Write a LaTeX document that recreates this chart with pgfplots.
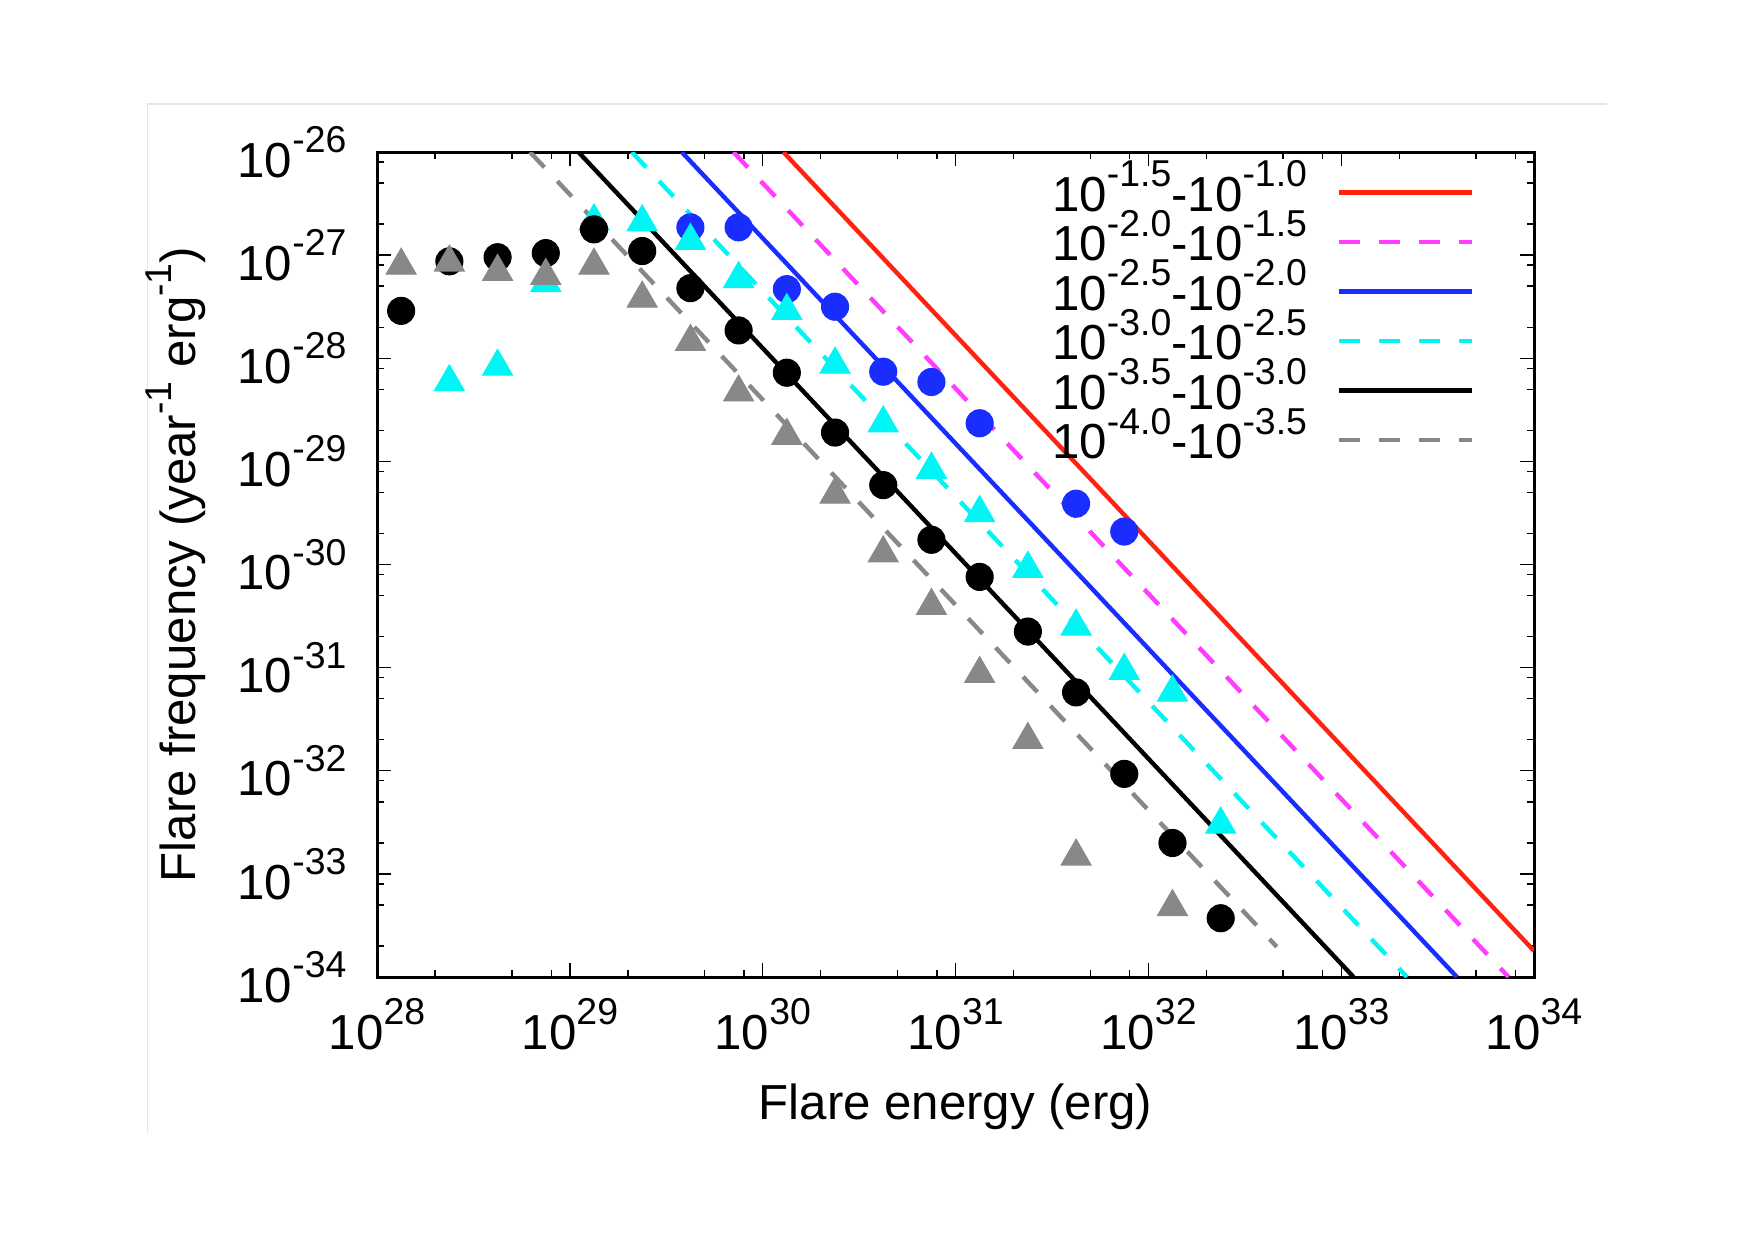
\documentclass[border=0pt]{standalone}
\usepackage{fontspec}
\setmainfont{Liberation Sans}
\usepackage{graphicx}
\usepackage{pgfplots}
\pgfplotsset{compat=1.18}
\definecolor{cred}{RGB}{255,35,15}
\definecolor{cmag}{RGB}{255,60,255}
\definecolor{cblue}{RGB}{25,45,255}
\definecolor{ccyan}{RGB}{0,245,245}
\definecolor{cgray}{RGB}{136,136,136}
\newcommand{\tp}[1]{10\raisebox{0.5em}{\scalebox{0.76}{#1}}}
\newcommand{\fs}{\fontsize{14}{16}\selectfont}
\begin{document}
\begin{tikzpicture}[x=1cm,y=1cm]
\path[use as bounding box] (0,0) rectangle (17.54,12.39);
\draw[line width=0.4pt, color=black!10] (1.475,1.06) -- (1.475,11.35) -- (16.07,11.35);
\begin{axis}[
  at={(3.77cm,2.62cm)}, anchor=south west,
  scale only axis, width=11.57cm, height=8.25cm,
  xmode=log, ymode=log,
  xmin=1e28, xmax=1e34, ymin=1e-34, ymax=1e-26,
  axis line style={line width=0.85pt},
  every tick/.style={black, line width=0.4pt},
  major tick length=0.14cm, minor tick length=0.07cm,
  tick align=inside,
  xtick={1e28,1e29,1e30,1e31,1e32,1e33,1e34},
  xticklabels={\tp{28},\tp{29},\tp{30},\tp{31},\tp{32},\tp{33},\tp{34}},
  ytick={1e-34,1e-33,1e-32,1e-31,1e-30,1e-29,1e-28,1e-27,1e-26},
  yticklabels={\tp{-34},\tp{-33},\tp{-32},\tp{-31},\tp{-30},\tp{-29},\tp{-28},\tp{-27},\tp{-26}},
  minor xtick={2e28,5e28,8e28,2e29,5e29,8e29,2e30,5e30,8e30,2e31,5e31,8e31,2e32,5e32,8e32,2e33,5e33,8e33},
  minor ytick={2e-34,5e-34,8e-34,2e-33,5e-33,8e-33,2e-32,5e-32,8e-32,2e-31,5e-31,8e-31,2e-30,5e-30,8e-30,2e-29,5e-29,8e-29,2e-28,5e-28,8e-28,2e-27,5e-27,8e-27},
  xticklabel style={font=\fs, inner sep=0pt, yshift=-0.21cm},
  yticklabel style={font=\fs, inner sep=0pt, xshift=-0.30cm},
  xlabel={Flare energy (erg)},
  ylabel={Flare frequency (year\raisebox{0.5em}{\scalebox{0.76}{-1}} erg\raisebox{0.5em}{\scalebox{0.76}{-1}})},
  xlabel style={font=\fs, at={(axis description cs:0.5,-0.157)}, anchor=center, inner sep=0pt},
  ylabel style={font=\fs, at={(axis description cs:-0.174,0.5)}, anchor=center, rotate=0, inner sep=0pt},
  legend cell align=right,
  legend plot pos=right,
  legend image code/.code={\draw[#1] (0cm,0.085cm) -- (1.33cm,0.085cm);},
  legend style={at={(axis description cs:0.949,0.9713)}, anchor=north east,
    draw=none, fill=none, inner sep=0pt, row sep=0pt, column sep=0.3cm, font=\fs,
    nodes={inner sep=0pt, text height=0.35cm, text depth=0.145cm}},
]
% data points
\addplot[forget plot, only marks, mark=*, color=cblue, mark size=3.85pt, mark options={line width=0.3pt}] coordinates {
(4.2170e29,1.862e-27) (7.4989e29,1.862e-27) (1.3335e30,4.677e-28) (2.3714e30,3.162e-28)
(4.2170e30,7.413e-29) (7.4989e30,5.888e-29) (1.3335e31,2.344e-29) (4.2170e31,3.890e-30)
(7.4989e31,2.089e-30)};
\addplot[forget plot, only marks, mark=triangle*, color=ccyan, mark size=4.9pt, mark options={line width=0.3pt}] coordinates {
(2.3714e28,5.888e-29) (4.2170e28,8.318e-29) (7.4989e28,5.370e-28) (1.3335e29,2.138e-27)
(2.3714e29,2.089e-27) (4.2170e29,1.380e-27) (7.4989e29,5.888e-28) (1.3335e30,2.884e-28)
(2.3714e30,8.710e-29) (4.2170e30,2.344e-29) (7.4989e30,8.318e-30) (1.3335e31,3.162e-30)
(2.3714e31,9.120e-31) (4.2170e31,2.512e-31) (7.4989e31,9.333e-32) (1.3335e32,5.754e-32)
(2.3714e32,3.020e-33)};
\addplot[forget plot, only marks, mark=*, color=black, mark size=3.85pt, mark options={line width=0.3pt}] coordinates {
(1.3335e28,2.884e-28) (2.3714e28,8.710e-28) (4.2170e28,9.550e-28) (7.4989e28,1.047e-27)
(1.3335e29,1.778e-27) (2.3714e29,1.096e-27) (4.2170e29,4.786e-28) (7.4989e29,1.862e-28)
(1.3335e30,7.244e-29) (2.3714e30,1.905e-29) (4.2170e30,5.888e-30) (7.4989e30,1.738e-30)
(1.3335e31,7.586e-31) (2.3714e31,2.239e-31) (4.2170e31,5.754e-32) (7.4989e31,9.333e-33)
(1.3335e32,1.995e-33) (2.3714e32,3.715e-34)};
\addplot[forget plot, only marks, mark=triangle*, color=cgray, mark size=4.9pt, mark options={line width=0.3pt}] coordinates {
(1.3335e28,7.943e-28) (2.3714e28,8.511e-28) (4.2170e28,6.918e-28) (7.4989e28,6.310e-28)
(1.3335e29,7.943e-28) (2.3714e29,3.802e-28) (4.2170e29,1.445e-28) (7.4989e29,4.677e-29)
(1.3335e30,1.778e-29) (2.3714e30,4.786e-30) (4.2170e30,1.288e-30) (7.4989e30,3.981e-31)
(1.3335e31,8.710e-32) (2.3714e31,1.995e-32) (4.2170e31,1.479e-33) (1.3335e32,4.786e-34)};
% power-law fits
\addplot[color=cred, line width=1.25pt] coordinates {(1.279e30,1e-26) (1e34,1.791e-34)};
\addlegendentry{\tp{-1.5}-\tp{-1.0}}
\addplot[color=cmag, line width=1.25pt, dash pattern=on 0.21cm off 0.19cm] coordinates {(7.047e29,1e-26) (7.379e33,1e-34)};
\addlegendentry{\tp{-2.0}-\tp{-1.5}}
\addplot[color=cblue, line width=1.25pt] coordinates {(3.802e29,1e-26) (3.981e33,1e-34)};
\addlegendentry{\tp{-2.5}-\tp{-2.0}}
\addplot[color=ccyan, line width=1.25pt, dash pattern=on 0.21cm off 0.19cm] coordinates {(2.094e29,1e-26) (2.193e33,1e-34)};
\addlegendentry{\tp{-3.0}-\tp{-2.5}}
\addplot[color=black, line width=1.25pt] coordinates {(1.107e29,1e-26) (1.159e33,1e-34)};
\addlegendentry{\tp{-3.5}-\tp{-3.0}}
\addplot[color=cgray, line width=1.25pt, dash pattern=on 0.21cm off 0.19cm] coordinates {(6.209e28,1e-26) (4.634e32,1.963e-34)};
\addlegendentry{\tp{-4.0}-\tp{-3.5}}
\end{axis}
\end{tikzpicture}
\end{document}
